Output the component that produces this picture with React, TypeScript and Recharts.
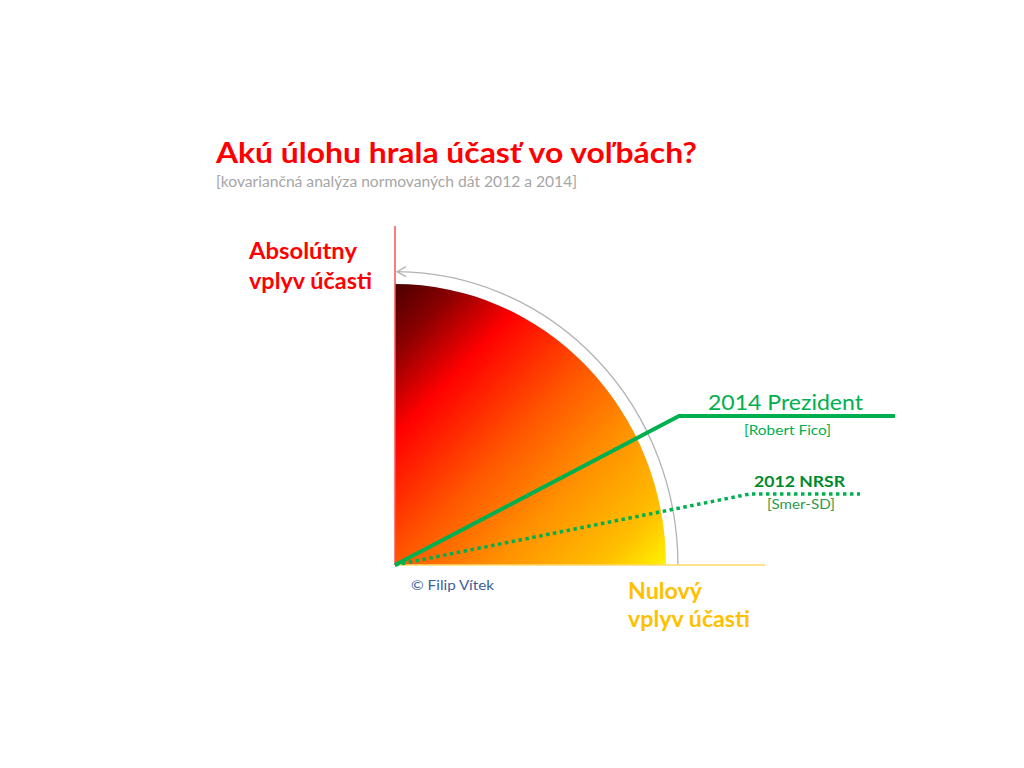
import React from "react";
import {
  ComposedChart,
  Line,
  XAxis,
  YAxis,
  ReferenceArea,
  ReferenceLine,
} from "recharts";

// Units: 100 = full quarter-circle radius ("absolute turnout influence")
const quarterRadius = [100];
const arcRadius = [104.4];
const prezident2014 = [
  { x: 0, y: 0 },
  { x: 104.8, y: 53.0 },
  { x: 184.5, y: 53.0 },
];
const nrsr2012 = [
  { x: 0, y: 0 },
  { x: 131.0, y: 25.3 },
  { x: 171.6, y: 25.3 },
];
const axisTop = [120.6];
const axisRight = [136.5];

const titleText = "Akú úlohu hrala účasť vo voľbách?";
const subtitleText = "[kovariančná analýza normovaných dát 2012 a 2014]";
const label2014 = ["2014 Prezident", "[Robert Fico]"];
const label2012 = ["2012 NRSR", "[Smer-SD]"];
const absLabel = ["Absolútny", "vplyv účasti"];
const nulLabel = ["Nulový", "vplyv účasti"];
const copyright = "© Filip Vítek";

const X_DOMAIN: [number, number] = [-145.76, 232.1];
const Y_DOMAIN: [number, number] = [-72.24, 201.07];

const QuarterDisc = (props: any) => {
  const { x, y, width, height } = props;
  const d = `M ${x} ${y + height} L ${x} ${y} A ${width} ${height} 0 0 1 ${
    x + width
  } ${y + height} Z`;
  return (
    <g>
      <defs>
        <linearGradient id="discGrad" x1="0" y1="0" x2="1" y2="1">
          <stop offset="0" stopColor="#4a0000" />
          <stop offset="0.12" stopColor="#8a0000" />
          <stop offset="0.27" stopColor="#ff0000" />
          <stop offset="0.5" stopColor="#ff5800" />
          <stop offset="0.68" stopColor="#ff9000" />
          <stop offset="0.88" stopColor="#ffbf00" />
          <stop offset="1" stopColor="#fff200" />
        </linearGradient>
      </defs>
      <path d={d} fill="url(#discGrad)" />
    </g>
  );
};

const ArcArrow = (props: any) => {
  const { x, y, width, height } = props;
  const d = `M ${x + width} ${y + height} A ${width} ${height} 0 0 0 ${x + 2} ${y}`;
  return (
    <g>
      <path d={d} fill="none" stroke="#b3b3b3" strokeWidth={1.3} />
      <path
        d={`M ${x + 11} ${y - 5} L ${x + 2} ${y} L ${x + 11} ${y + 5}`}
        fill="none"
        stroke="#b3b3b3"
        strokeWidth={1.3}
      />
    </g>
  );
};

const FONT = "Lato, 'Open Sans', sans-serif";

export default function App() {
  return (
    <div
      style={{
        position: "absolute",
        left: 0,
        top: 0,
        width: 1024,
        height: 768,
        background: "#fff",
      }}
    >
      <ComposedChart
        width={1024}
        height={768}
        margin={{ top: 0, right: 0, bottom: 0, left: 0 }}
      >
        <XAxis
          dataKey="x"
          type="number"
          domain={X_DOMAIN}
          allowDataOverflow
          hide
        />
        <YAxis
          dataKey="y"
          type="number"
          domain={Y_DOMAIN}
          allowDataOverflow
          hide
          width={0}
        />
        <ReferenceArea
          x1={0}
          x2={quarterRadius[0]}
          y1={0}
          y2={quarterRadius[0]}
          shape={<QuarterDisc />}
        />
        <ReferenceArea
          x1={0}
          x2={arcRadius[0]}
          y1={0}
          y2={arcRadius[0]}
          shape={<ArcArrow />}
        />
        <ReferenceLine
          segment={[
            { x: 0, y: 0 },
            { x: 0, y: axisTop[0] },
          ]}
          stroke="#ff5050"
          strokeWidth={1.5}
        />
        <ReferenceLine
          segment={[
            { x: 0, y: 0 },
            { x: axisRight[0], y: 0 },
          ]}
          stroke="#ffd966"
          strokeWidth={1.5}
        />
        <Line
          data={nrsr2012}
          dataKey="y"
          type="linear"
          stroke="#00b050"
          strokeWidth={3.5}
          strokeDasharray="3.5 3.5"
          dot={false}
          activeDot={false}
          isAnimationActive={false}
        />
        <Line
          data={prezident2014}
          dataKey="y"
          type="linear"
          stroke="#00b050"
          strokeWidth={4}
          dot={false}
          activeDot={false}
          isAnimationActive={false}
        />
      </ComposedChart>
      <svg
        width={1024}
        height={768}
        style={{ position: "absolute", left: 0, top: 0, pointerEvents: "none" }}
        fontFamily={FONT}
      >
        <text
          x={216}
          y={163}
          fontSize={29}
          fontWeight={700}
          fill="#ff0000"
          textLength={481}
          lengthAdjust="spacingAndGlyphs"
        >
          {titleText}
        </text>
        <text
          x={216}
          y={187}
          fontSize={14.5}
          fill="#a6a6a6"
          textLength={361}
          lengthAdjust="spacingAndGlyphs"
        >
          {subtitleText}
        </text>
        <text x={249} y={259} fontSize={22} fontWeight={700} fill="#ff0000" textLength={108} lengthAdjust="spacingAndGlyphs">
          {absLabel[0]}
        </text>
        <text x={249} y={289} fontSize={22} fontWeight={700} fill="#ff0000" textLength={123} lengthAdjust="spacingAndGlyphs">
          {absLabel[1]}
        </text>
        <text x={628} y={599} fontSize={22} fontWeight={700} fill="#ffc000" textLength={74} lengthAdjust="spacingAndGlyphs">
          {nulLabel[0]}
        </text>
        <text x={628} y={627} fontSize={22} fontWeight={700} fill="#ffc000" textLength={122} lengthAdjust="spacingAndGlyphs">
          {nulLabel[1]}
        </text>
        <text x={411} y={590} fontSize={13.5} fill="#3b5e9a" textLength={83} lengthAdjust="spacingAndGlyphs">
          {copyright}
        </text>
        <text x={708} y={410} fontSize={21} fill="#00b050" textLength={155} lengthAdjust="spacingAndGlyphs">
          {label2014[0]}
        </text>
        <text x={744} y={435} fontSize={14} fill="#00b050" textLength={87} lengthAdjust="spacingAndGlyphs">
          {label2014[1]}
        </text>
        <text x={754} y={487} fontSize={16} fontWeight={700} fill="#008a2e" textLength={91} lengthAdjust="spacingAndGlyphs">
          {label2012[0]}
        </text>
        <text x={767} y={509} fontSize={13.5} fill="#2e9a4a" textLength={68} lengthAdjust="spacingAndGlyphs">
          {label2012[1]}
        </text>
      </svg>
    </div>
  );
}
